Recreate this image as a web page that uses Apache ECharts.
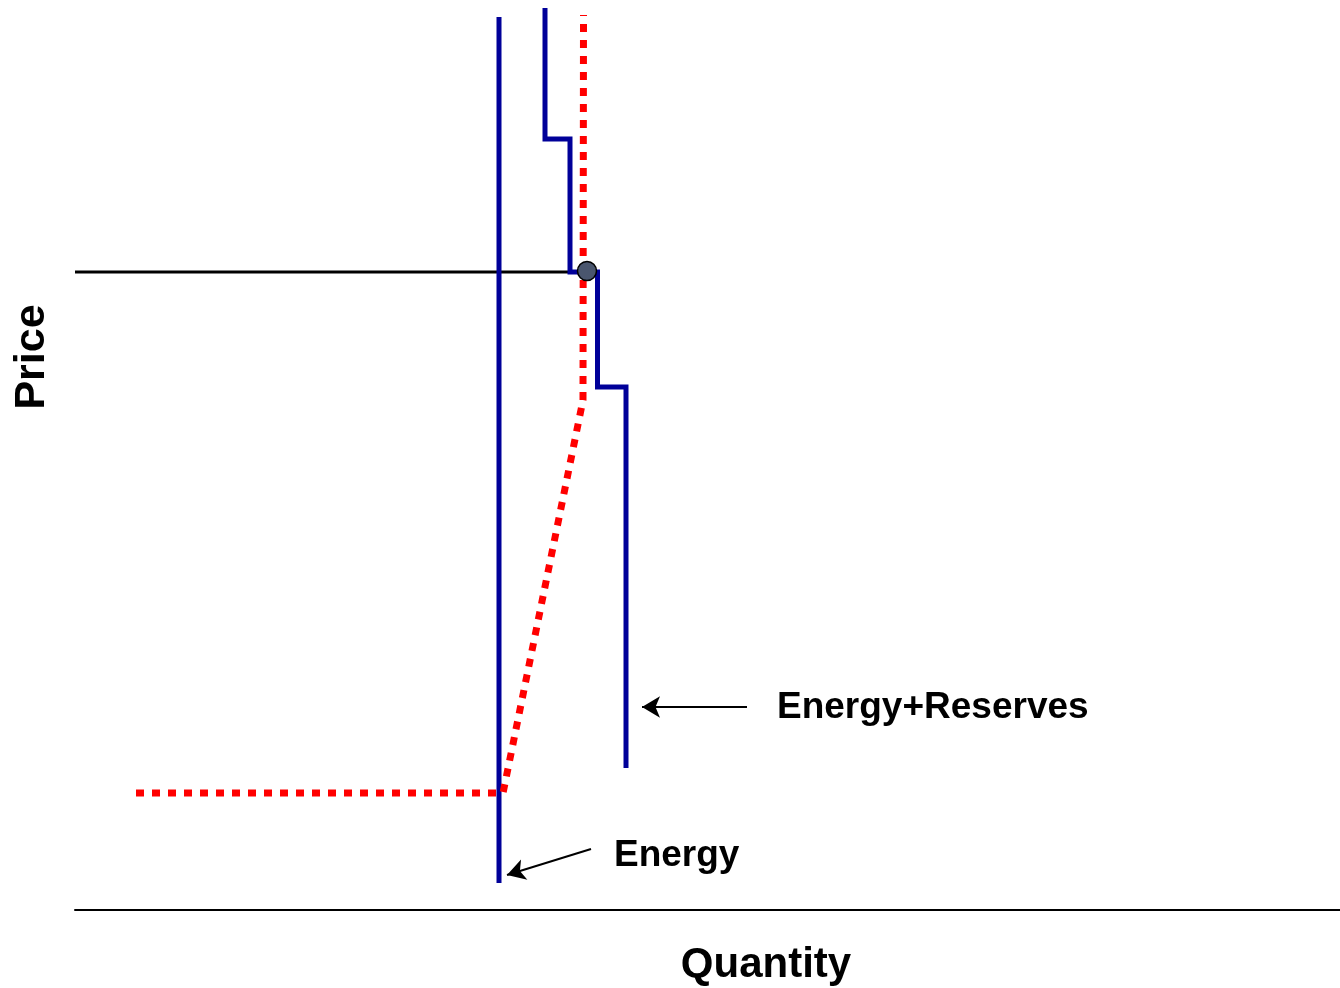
<!DOCTYPE html>
<html>
<head>
<meta charset="utf-8">
<script src="https://cdn.jsdelivr.net/npm/echarts@6/dist/echarts.min.js"></script>
<style>
html,body{margin:0;padding:0;background:#fff;}
#chart{width:1340px;height:988px;}
</style>
</head>
<body>
<div id="chart"></div>
<script>
// Data (quantity, price) in arbitrary chart units
const energyCurve = [[42.4, 2.7], [42.4, 89.3]];
const energyReservesCurve = [
  [47.0, 90.2], [47.0, 77.1], [49.5, 77.1], [49.5, 63.8],
  [52.25, 63.8], [52.25, 52.3], [55.1, 52.3], [55.1, 14.2]
];
const demandCurve = [[6.1, 11.7], [42.8, 11.7], [50.8, 51.0], [50.85, 89.5]];
const priceLine = [[0, 63.8], [50.0, 63.8]];
const equilibrium = [[51.2, 63.9]];
const arrowER = [[67.2, 20.3], [56.7, 20.3]];
const arrowE = [[51.6, 6.1], [43.2, 3.5]];
const labelER = [[70.2, 20.25]];
const labelE = [[53.9, 5.4]];
const axisNames = { x: 'Quantity', y: 'Price' };
const labelTexts = { er: 'Energy+Reserves', e: 'Energy' };

const FONT = "'Liberation Sans', Arial, sans-serif";
const chart = echarts.init(document.getElementById('chart'));

function arrowSeries(pts) {
  return {
    type: 'line', data: [], silent: true,
    markLine: {
      silent: true, animation: false,
      symbol: ['none', 'arrow'], symbolSize: [16, 18],
      label: { show: false },
      lineStyle: { color: '#000', width: 2, type: 'solid' },
      data: [[{ coord: pts[0] }, { coord: pts[1] }]]
    }
  };
}
function labelSeries(pt, text, size) {
  return {
    type: 'scatter', data: pt, symbolSize: 0, silent: true,
    itemStyle: { opacity: 1 },
    label: {
      show: true, position: 'right', distance: 0, formatter: text, opacity: 1,
      fontFamily: FONT, fontWeight: 'bold', fontSize: size, color: '#000'
    }
  };
}

chart.setOption({
  animation: false,
  grid: { left: 75, right: 0, top: 0, bottom: 78 },
  xAxis: {
    type: 'value', min: 0, max: 126.5,
    axisLine: { show: true, onZero: false, lineStyle: { color: '#000', width: 2 } },
    axisTick: { show: false }, axisLabel: { show: false }, splitLine: { show: false }
  },
  yAxis: {
    type: 'value', min: 0, max: 91,
    axisLine: { show: false }, axisTick: { show: false },
    axisLabel: { show: false }, splitLine: { show: false }
  },
  graphic: [
    { type: 'text', x: 32, y: 357, rotation: Math.PI / 2,
      style: { text: axisNames.y, font: "bold 43px " + FONT, fill: '#000', align: 'center', verticalAlign: 'middle' } },
    { type: 'text', x: 766, y: 965,
      style: { text: axisNames.x, font: "bold 42px " + FONT, fill: '#000', align: 'center', verticalAlign: 'middle' } }
  ],
  series: [
    { type: 'line', data: priceLine, symbol: 'none', silent: true,
      lineStyle: { color: '#000', width: 3 } },
    { type: 'line', data: energyCurve, symbol: 'none', silent: true,
      lineStyle: { color: '#000099', width: 5 } },
    { type: 'line', data: energyReservesCurve, symbol: 'none', silent: true,
      lineStyle: { color: '#000099', width: 5, join: 'miter' } },
    { type: 'line', data: demandCurve, symbol: 'none', silent: true,
      lineStyle: { color: '#ff0000', width: 7, type: [8, 8], cap: 'butt', join: 'miter' } },
    { type: 'scatter', data: equilibrium, symbol: 'circle', symbolSize: 19, silent: true,
      itemStyle: { color: '#4a566e', borderColor: '#000', borderWidth: 1.5, opacity: 1 }, z: 5 },
    arrowSeries(arrowER),
    arrowSeries(arrowE),
    labelSeries(labelER, labelTexts.er, 37),
    labelSeries(labelE, labelTexts.e, 37)
  ]
});
</script>
</body>
</html>
